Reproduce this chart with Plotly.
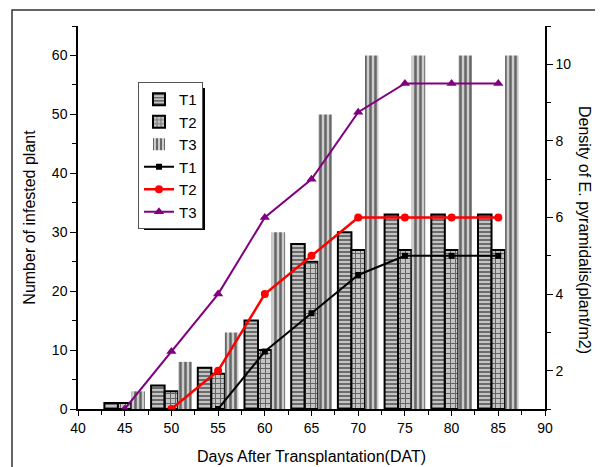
import plotly.graph_objects as go

days = [45, 50, 55, 60, 65, 70, 75, 80, 85]
# Number of infested plants (bars, left axis)
bar_T1 = [1, 4, 7, 15, 28, 30, 33, 33, 33]
bar_T2 = [1, 3, 6, 10, 25, 27, 27, 27, 27]
bar_T3 = [3, 8, 13, 30, 50, 60, 60, 60, 60]
# Density of E. pyramidalis (lines, right axis)
line_T1_days = [55, 60, 65, 70, 75, 80, 85]
line_T1 = [1, 2.5, 3.5, 4.5, 5, 5, 5]
line_T2_days = [50, 55, 60, 65, 70, 75, 80, 85]
line_T2 = [1, 2, 4, 5, 6, 6, 6, 6]
line_T3_days = [45, 50, 55, 60, 65, 70, 75, 80, 85]
line_T3 = [1, 2.5, 4, 6, 7, 8.75, 9.5, 9.5, 9.5]

GREY = "#c4c4c4"
FONT = "Liberation Sans, Arial, sans-serif"

fig = go.Figure()
fig.add_trace(go.Bar(x=days, y=bar_T1, name="T1",
                     marker=dict(color=GREY, line=dict(color="black", width=2),
                                 pattern=dict(shape="-", fgcolor="black", size=4,
                                              solidity=0.45, fillmode="overlay"))))
fig.add_trace(go.Bar(x=days, y=bar_T2, name="T2",
                     marker=dict(color=GREY, line=dict(color="black", width=2),
                                 pattern=dict(shape="+", fgcolor="black", size=5,
                                              solidity=0.35, fillmode="overlay"))))
fig.add_trace(go.Bar(x=days, y=bar_T3, name="T3",
                     marker=dict(color="#cccccc", line=dict(color="#cccccc", width=0),
                                 pattern=dict(shape="|", fgcolor="black", size=5,
                                              solidity=0.5, fillmode="overlay"))))
fig.add_trace(go.Scatter(x=line_T1_days, y=line_T1, name="T1", yaxis="y2",
                         mode="lines+markers", line=dict(color="black", width=2),
                         marker=dict(symbol="square", size=6, color="black")))
fig.add_trace(go.Scatter(x=line_T2_days, y=line_T2, name="T2", yaxis="y2",
                         mode="lines+markers", line=dict(color="#ff0000", width=2.5),
                         marker=dict(symbol="circle", size=8, color="#ff0000")))
fig.add_trace(go.Scatter(x=line_T3_days, y=line_T3, name="T3", yaxis="y2",
                         mode="lines+markers", line=dict(color="#800080", width=2),
                         marker=dict(symbol="triangle-up", size=9, color="#800080")))

# page body has an 8px margin; work in page pixels and convert
OFF = 8
PL, PT, PR, PB = 78, 26, 545, 409   # plot area in page pixels
W, H = 603 - OFF, 467 - OFF
L, T = PL - OFF, PT - OFF
pw, ph = PR - PL, PB - PT
R, B = W - L - pw, H - T - ph


def px_x(p):
    return (p - PL) / pw


def px_y(p):
    return (PB - p) / ph


axis_common = dict(showline=True, linecolor="black", linewidth=1.5, showgrid=False,
                   zeroline=False, tickcolor="black", tickwidth=1.2, automargin=False,
                   tickfont=dict(family=FONT, size=14, color="black"))

fig.update_layout(
    width=W, height=H,
    margin=dict(l=L, r=R, t=T, b=B, autoexpand=False),
    paper_bgcolor="white", plot_bgcolor="white",
    barmode="group", bargap=0.13,
    font=dict(family=FONT, color="black"),
    xaxis=dict(range=[40, 90], dtick=5, tick0=40, ticks="outside", ticklen=5,
               minor=dict(dtick=2.5, ticks="outside", ticklen=4, tickcolor="black"),
               title=dict(text="Days After Transplantation(DAT)",
                          font=dict(family=FONT, size=16, color="black"), standoff=16),
               **axis_common),
    xaxis2=dict(range=[40, 90], overlaying="x", side="top", anchor="y",
                dtick=5, tick0=40, ticks="inside", ticklen=7, showticklabels=False,
                minor=dict(dtick=2.5, ticks="inside", ticklen=4, tickcolor="black"),
                **axis_common),
    yaxis=dict(range=[0, 65], dtick=10, tick0=0, ticks="outside", ticklen=6,
               minor=dict(dtick=5, ticks="outside", ticklen=4, tickcolor="black"),
               title=dict(text="Number of infested plant",
                          font=dict(family=FONT, size=16, color="black"), standoff=12),
               **axis_common),
    yaxis2=dict(range=[1, 11], dtick=2, tick0=0, ticks="outside", ticklen=6,
                overlaying="y", side="right", anchor="x",
                minor=dict(dtick=1, ticks="outside", ticklen=4, tickcolor="black"),
                **axis_common),
    legend=dict(x=px_x(138), y=px_y(82), xanchor="left", yanchor="top",
                bgcolor="white", bordercolor="#555555", borderwidth=1,
                font=dict(family=FONT, size=15, color="black"),
                itemwidth=30, tracegroupgap=0),
    showlegend=True,
)

# Right axis title (reads top to bottom)
fig.add_annotation(text="Density of E. pyramidalis(plant/m2)", xref="paper", yref="paper",
                   x=px_x(585), y=px_y(230), xanchor="center", yanchor="middle",
                   showarrow=False, textangle=90,
                   font=dict(family=FONT, size=16, color="black"))

# legend shadow
fig.add_shape(type="rect", xref="paper", yref="paper", layer="above",
              x0=px_x(144), x1=px_x(205), y0=px_y(230), y1=px_y(88),
              fillcolor="black", line=dict(width=0))

# outer frame (cropped)
fig.add_shape(type="rect", xref="paper", yref="paper", layer="above",
              x0=px_x(12), x1=px_x(700), y0=px_y(520), y1=px_y(10),
              line=dict(color="#333333", width=1.5), fillcolor="rgba(0,0,0,0)")

fig.write_html("out.html")
